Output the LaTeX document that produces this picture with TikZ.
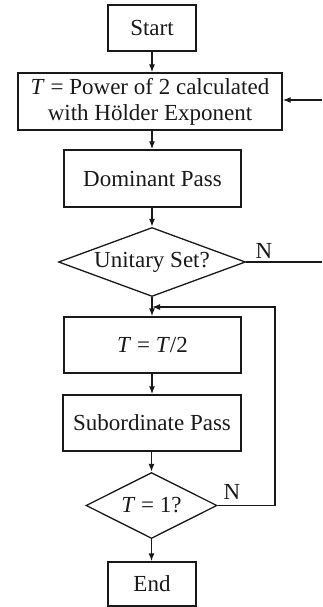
\documentclass[tikz,border=0pt]{standalone}
\usepackage{fontspec}
\setmainfont{Liberation Serif}
\usetikzlibrary{shapes.geometric,arrows.meta}
\begin{document}
\begin{tikzpicture}[x=1pt,y=-1pt, line width=1.3pt, color={black!90},
  txt/.style={font=\fontsize{23}{26}\selectfont},
  box/.style={txt, draw, rectangle, inner sep=0pt, align=center},
  dia/.style={txt, draw, diamond, inner sep=0pt},
  arr/.style={-{Latex[length=8pt,width=6pt]}}]
\useasboundingbox (0,0) rectangle (322,607);
\node[box, minimum width=88, minimum height=46] (start) at (152,28) {Start};
\node[box, minimum width=264, minimum height=57] (pow) at (150,101.5) {\textit{T} = Power of 2 calculated\\with Hölder Exponent};
\node[box, minimum width=177, minimum height=57] (dom) at (152.5,178.5) {Dominant Pass};
\node[dia, minimum width=187, minimum height=69, aspect=2.7] (uni) at (152,262) {Unitary Set?};
\node[box, minimum width=177, minimum height=56] (half) at (152.5,345) {\textit{T} = \textit{T}/2};
\node[box, minimum width=178, minimum height=56] (sub) at (152,423) {Subordinate Pass};
\node[dia, minimum width=131, minimum height=66, aspect=2] (one) at (151.5,505.5) {\textit{T} = 1?};
\node[box, minimum width=88, minimum height=44] (end) at (152,584) {End};
\node[txt] (n1) at (264,251) {N};
\node[txt] (n2) at (232,492) {N};
\coordinate (r1) at (322,100);
\coordinate (r2) at (322,262);
\coordinate (lp) at (275,307);
\draw[arr] (start) -- (start |- pow.north);
\draw[arr] (pow.south -| start) -- (start |- dom.north);
\draw[arr] (dom.south -| uni) -- (uni.north);
\draw[arr] (uni.south) -- (uni |- half.north);
\draw[arr] (half.south -| uni) -- (uni |- sub.north);
\draw[arr] (sub.south -| one) -- (one.north);
\draw[arr] (one.south) -- (one |- end.north);
\draw[arr] (r1) -- (r1 -| pow.east);
\draw (uni.east) -- (r2);
\draw[arr] (one.east) -| (lp) -- (lp -| uni.south);
\end{tikzpicture}
\end{document}
